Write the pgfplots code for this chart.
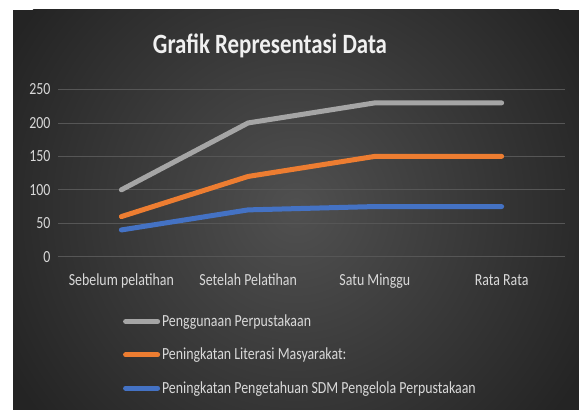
\documentclass[border=0pt]{standalone}
\usepackage{pgfplots}
\pgfplotsset{compat=1.18}
\usepackage{fontspec}
\setmainfont{Carlito}[FakeStretch=0.82]
\definecolor{cgray}{HTML}{A5A5A5}
\definecolor{corange}{HTML}{ED7D31}
\definecolor{cblue}{HTML}{4472C4}
\definecolor{txt}{HTML}{D9D9D9}
\definecolor{gridc}{HTML}{565656}
\definecolor{bgout}{RGB}{36,36,36}
\definecolor{bgin}{RGB}{80,80,80}
\begin{document}
\begin{tikzpicture}[x=1bp,y=1bp]
\fill[white] (0,0) rectangle (579,409);
\fill[bgout] (13,-10) rectangle (590,399);
\begin{scope}
\clip (13,-10) rectangle (590,399);
\shade[inner color=bgin, outer color=bgout] (296,200) circle (330);
\end{scope}
\node[text={rgb,255:red,240;green,240;blue,240}, font=\fontsize{28}{32}\selectfont\bfseries] at (270,363) {Grafik Representasi Data};
\begin{axis}[
  at={(58bp,152.3bp)}, anchor=south west,
  scale only axis, width=507bp, height=167.2bp,
  xmin=-0.5, xmax=3.5, ymin=0, ymax=250,
  axis line style={draw=none},
  tick style={draw=none},
  ymajorgrids, grid style={gridc, line width=0.8bp},
  ytick={0,50,100,150,200,250},
  xtick={0,1,2,3},
  xticklabels={Sebelum pelatihan, Setelah Pelatihan, Satu Minggu, Rata Rata},
  /pgf/number format/assume math mode=true,
  ticklabel style={text=txt, font=\fontsize{17}{20}\selectfont},
  yticklabel style={xshift=-4bp},
  xticklabel style={yshift=-14bp},
  legend style={at={(0.128,-0.335)}, anchor=north west, draw=none, fill=none,
    text=txt, font=\fontsize{17}{20}\selectfont, row sep=16bp, inner sep=0pt},
  legend cell align=left,
  legend image code/.code={\draw[#1, line width=5bp, line cap=round] (1bp,0) -- (33bp,0);},
]
\addplot[cgray, line width=5bp, line cap=round, line join=round] coordinates {(0,100) (1,200) (2,230) (3,230)};
\addlegendentry{Penggunaan Perpustakaan}
\addplot[corange, line width=5bp, line cap=round, line join=round] coordinates {(0,60) (1,120) (2,150) (3,150)};
\addlegendentry{Peningkatan Literasi Masyarakat:}
\addplot[cblue, line width=5bp, line cap=round, line join=round] coordinates {(0,40) (1,70) (2,75) (3,75)};
\addlegendentry{Peningkatan Pengetahuan SDM Pengelola Perpustakaan}
\end{axis}
\pgfresetboundingbox
\useasboundingbox (0,0) rectangle (579,409);
\end{tikzpicture}
\end{document}
